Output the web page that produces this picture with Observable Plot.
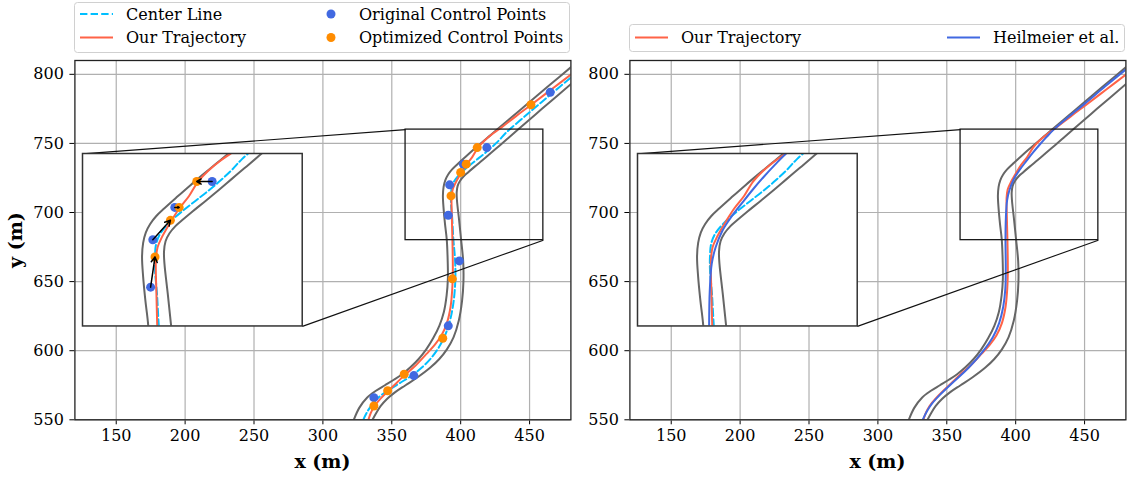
<!DOCTYPE html>
<html><head><meta charset="utf-8">
<script src="https://cdn.jsdelivr.net/npm/d3@7"></script>
<script src="https://cdn.jsdelivr.net/npm/@observablehq/plot@0.6"></script>
<style>
body{margin:0;background:#fff;}
#fig{position:relative;width:1134px;height:478px;overflow:hidden;background:#fff;}
#fig > svg, #fig > div{position:absolute;}
</style></head><body><div id="fig"></div>
<script>
// ---------- data ----------
const xTicks = [150, 200, 250, 300, 350, 400, 450];
const yTicks = [550, 600, 650, 700, 750, 800];
const xDomain = [120, 480];
const yDomain = [550, 810];
const zoomX = [360, 460];
const zoomY = [680, 760];

const leftBoundX = [322.4, 326.5, 332, 338.5, 345, 351.5, 357.5, 363.5, 369.5, 375, 380, 384.5, 387.8, 389.8, 390.7, 390.6, 389.9, 388.6, 387.6, 387.1, 387.6, 388.8, 390.8, 393.6, 397.3, 403.2, 409, 414.8, 420.6, 426.4, 438, 450, 465, 481];
const leftBoundY = [550, 558.8, 566, 571, 575, 579, 583, 588, 594, 601, 609, 618, 628, 640, 652, 664, 680.4, 692, 702.8, 712, 718.5, 723.3, 727.3, 731, 734.6, 740, 745.2, 750.2, 755.1, 760, 769.8, 779.9, 792.6, 806];

const rightBoundX = [336, 338.7, 342, 346.5, 352.5, 360, 368.5, 378, 384.5, 390, 394.8, 398.6, 401, 402, 401.8, 400.3, 398.8, 397.3, 397.1, 397.8, 399.6, 402.2, 405.3, 410.2, 416, 421.9, 427.7, 433.5, 441, 459, 481];
const rightBoundY = [550, 555, 560, 565, 570, 575, 580.6, 587.8, 594, 601, 609.6, 621.6, 636, 650, 665, 680.4, 695, 708.9, 714.5, 719.3, 723, 726.2, 729, 733.2, 738, 743, 748, 753, 759.5, 775, 793.8];

const centerX = [329.3, 332.3, 336.5, 342, 348.5, 356.5, 364.5, 372, 378.8, 384.5, 389, 392.3, 394.5, 395.8, 396.2, 395.7, 394.7, 393.9, 393, 393, 393.5, 395.2, 398.2, 402, 406.5, 411.5, 417, 422.5, 427.8, 432.7, 450, 465, 481];
const centerY = [550, 556, 562, 567.5, 572, 577, 582, 588, 595, 603, 612, 622, 633, 645, 657, 669, 680.4, 695, 705.8, 712.5, 718, 722.5, 726.5, 730.3, 734.1, 738.1, 742.5, 747.2, 752.2, 757.5, 772.5, 785.2, 798.5];

const ourX = [333, 334.8, 337.5, 342, 347.5, 353.8, 360, 366.5, 375, 381, 386, 390, 392.7, 393.9, 394.3, 394.2, 394, 393.6, 393.4, 394.2, 396.2, 398.3, 400.3, 404.1, 408.5, 412.6, 417, 422.3, 428.6, 440, 451, 466, 481];
const ourY = [550, 555, 560, 565.5, 571, 577, 583, 588.5, 597.5, 604, 611, 620, 632, 645, 658, 670, 680.4, 696.6, 710.5, 716.6, 721.3, 725.2, 728.6, 734.6, 740.3, 747, 751.8, 756.3, 760.8, 769.6, 777.8, 789.2, 800.5];

const heilX = [332.5, 335.5, 339.5, 345, 353, 366, 376.5, 383.5, 388, 391, 392.5, 392.8, 392.6, 392.9, 393.8, 395.6, 398.7, 403, 407.8, 412.5, 417.5, 422.5, 427.4, 438, 450, 465, 481];
const heilY = [550, 556, 562, 568, 575.7, 587.8, 599.9, 610, 620, 632, 645, 660, 680.4, 696.6, 708.9, 716.6, 724.3, 731, 737.3, 743.3, 749.2, 754.7, 759.8, 768.9, 778.6, 791.3, 804.3];

const origX = [337, 366, 391, 399, 391, 392, 402, 419, 465];
const origY = [566, 582, 618, 665, 698, 720, 735, 747, 787];
const optX = [337, 347, 359, 387, 394, 393, 400, 404, 412, 451];
const optY = [560, 571, 583, 609, 652, 712, 729, 735, 747, 778];
// arrows: [original index, optimized index]
const arrowPairs = [[4, 5], [5, 6], [6, 7], [7, 8]];

const insetFrac = [0.0157, 0.26, 0.443, 0.48]; // left, bottom, width, height (axes fraction)

// ---------- styles ----------
const C = {grid: "#b0b0b0", bound: "#666666", center: "#00bfff", ours: "#ff6347", heil: "#4169e1",
  orig: "#4169e1", opt: "#ff8c00", frame: "#222"};
const FONT = "DejaVu Serif";
const TICK_FS = 16, LEG_FS = 16, LABEL_FS = 19;
const pts = (xs, ys) => xs.map((x, i) => ({x, y: ys[i]}));
const boundL = pts(leftBoundX, leftBoundY), boundR = pts(rightBoundX, rightBoundY);
const center = pts(centerX, centerY), ours = pts(ourX, ourY), heil = pts(heilX, heilY);
const orig = pts(origX, origY), opt = pts(optX, optY);
const arrows = arrowPairs.map(([i, j]) => ({x1: origX[i], y1: origY[i], x2: optX[j], y2: optY[j]}));

const lineOpts = (stroke, extra = {}) => ({x: "x", y: "y", stroke, strokeWidth: 2, curve: "catmull-rom", clip: true, ...extra});

const PLOT_W = 496, PLOT_H = 359.3, M_TOP = 60, TOTAL_H = 478;
const M_BOTTOM = TOTAL_H - M_TOP - PLOT_H;

const ix0 = xDomain[0] + insetFrac[0] * (xDomain[1] - xDomain[0]);
const ix1 = ix0 + insetFrac[2] * (xDomain[1] - xDomain[0]);
const iy0 = yDomain[0] + insetFrac[1] * (yDomain[1] - yDomain[0]);
const iy1 = iy0 + insetFrac[3] * (yDomain[1] - yDomain[0]);
const zoomRect = [{x1: zoomX[0], x2: zoomX[1], y1: zoomY[0], y2: zoomY[1]}];
const connectors = [
  {x1: ix0, y1: iy1, x2: zoomX[0], y2: zoomY[1]},
  {x1: ix1, y1: iy0, x2: zoomX[1], y2: zoomY[0]}
];

function mainPlot(marginLeft, totalW, trackMarks) {
  return Plot.plot({
    width: totalW, height: TOTAL_H,
    marginLeft, marginRight: totalW - marginLeft - PLOT_W, marginTop: M_TOP, marginBottom: M_BOTTOM,
    style: {fontFamily: FONT, fontSize: TICK_FS + "px", color: "black", background: "transparent", overflow: "visible"},
    x: {domain: xDomain, ticks: xTicks, tickSize: 5, tickPadding: 5, label: null},
    y: {domain: yDomain, ticks: yTicks, tickSize: 5, tickPadding: 6, label: null},
    marks: [
      Plot.ruleX(xTicks, {stroke: C.grid, strokeWidth: 1.2}),
      Plot.ruleY(yTicks, {stroke: C.grid, strokeWidth: 1.2}),
      ...trackMarks,
      Plot.rect(zoomRect, {x1: "x1", x2: "x2", y1: "y1", y2: "y2", fill: "none", stroke: "#1a1a1a", strokeWidth: 1.3}),
      Plot.link(connectors, {x1: "x1", y1: "y1", x2: "x2", y2: "y2", stroke: "#111", strokeWidth: 1.1}),
      Plot.frame({stroke: C.frame, strokeWidth: 1.3})
    ]
  });
}

function insetPlot(trackMarks) {
  return Plot.plot({
    width: insetFrac[2] * PLOT_W, height: insetFrac[3] * PLOT_H,
    margin: 0,
    style: {background: "white", overflow: "visible"},
    x: {domain: zoomX, axis: null},
    y: {domain: zoomY, axis: null},
    marks: [...trackMarks, Plot.frame({stroke: "#333", strokeWidth: 1.5})]
  });
}

const boundMarks = () => [
  Plot.line(boundL, lineOpts(C.bound)),
  Plot.line(boundR, lineOpts(C.bound))
];
const centerMark = () => Plot.line(center, lineOpts(C.center, {strokeDasharray: "7.4,3.2"}));
const oursMark = () => Plot.line(ours, lineOpts(C.ours));
const heilMark = () => Plot.line(heil, lineOpts(C.heil));
const dotMarks = () => [
  Plot.dot(orig, {x: "x", y: "y", r: 4.5, fill: C.orig, stroke: "none", clip: true}),
  Plot.dot(opt, {x: "x", y: "y", r: 4.5, fill: C.opt, stroke: "none", clip: true})
];

const fig = document.getElementById("fig");

// left panel
const LEFT_ML = 74.4, LEFT_W = 580;
const left = mainPlot(LEFT_ML, LEFT_W, [...boundMarks(), centerMark(), oursMark(), ...dotMarks()]);
left.style.left = "0px"; left.style.top = "0px";
fig.appendChild(left);
const leftInset = insetPlot([...boundMarks(), centerMark(), oursMark(), ...dotMarks(),
  Plot.arrow(arrows, {x1: "x1", y1: "y1", x2: "x2", y2: "y2", stroke: "black", strokeWidth: 1.5, headLength: 6, clip: true})]);
leftInset.style.left = (LEFT_ML + insetFrac[0] * PLOT_W) + "px";
leftInset.style.top = (M_TOP + (1 - insetFrac[1] - insetFrac[3]) * PLOT_H) + "px";
fig.appendChild(leftInset);

// right panel
const RIGHT_X = 580, RIGHT_ML = 49.4, RIGHT_W = 554;
const right = mainPlot(RIGHT_ML, RIGHT_W, [...boundMarks(), oursMark(), heilMark()]);
right.style.left = RIGHT_X + "px"; right.style.top = "0px";
fig.appendChild(right);
const rightInset = insetPlot([...boundMarks(), centerMark(), oursMark(), heilMark()]);
rightInset.style.left = (RIGHT_X + RIGHT_ML + insetFrac[0] * PLOT_W) + "px";
rightInset.style.top = (M_TOP + (1 - insetFrac[1] - insetFrac[3]) * PLOT_H) + "px";
fig.appendChild(rightInset);

// overlay: legends & axis labels
const NS = "http://www.w3.org/2000/svg";
const ov = document.createElementNS(NS, "svg");
ov.setAttribute("width", 1134); ov.setAttribute("height", 478);
ov.style.left = "0px"; ov.style.top = "0px"; ov.style.pointerEvents = "none";
ov.setAttribute("font-family", FONT);
fig.appendChild(ov);
function el(tag, attrs, text) {
  const e = document.createElementNS(NS, tag);
  for (const k in attrs) e.setAttribute(k, attrs[k]);
  if (text != null) e.textContent = text;
  ov.appendChild(e);
  return e;
}
function legendBox(x, y, w, h) {
  el("rect", {x: x + 0.5, y: y + 0.5, width: w - 1, height: h - 1, rx: 3, fill: "white", stroke: "#d0d0d0", "stroke-width": 1});
}
function legendLine(x, y, color, dash, label) {
  el("line", {x1: x, x2: x + 33, y1: y, y2: y, stroke: color, "stroke-width": 2, "stroke-dasharray": dash || "none"});
  el("text", {x: x + 46, y, "font-size": LEG_FS, "dominant-baseline": "central"}, label);
}
function legendDot(x, y, color, label) {
  el("circle", {cx: x, cy: y, r: 4.5, fill: color});
  el("text", {x: x + 28, y, "font-size": LEG_FS, "dominant-baseline": "central"}, label);
}
legendBox(74, 2, 496, 51);
legendLine(80, 14, C.center, "7.4,3.2", "Center Line");
legendLine(80, 37.5, C.ours, null, "Our Trajectory");
legendDot(331, 14, C.orig, "Original Control Points");
legendDot(331, 37.5, C.opt, "Optimized Control Points");

legendBox(629, 24, 496, 28);
legendLine(635, 37.5, C.ours, null, "Our Trajectory");
legendLine(947, 37.5, C.heil, null, "Heilmeier et al.");

el("text", {x: 0, y: 0, transform: "translate(15,240) rotate(-90)", "text-anchor": "middle", "dominant-baseline": "central", "font-size": LABEL_FS, "font-weight": "bold"}, "y (m)");
el("text", {x: LEFT_ML + PLOT_W / 2, y: 461, "text-anchor": "middle", "dominant-baseline": "central", "font-size": LABEL_FS, "font-weight": "bold"}, "x (m)");
el("text", {x: RIGHT_X + RIGHT_ML + PLOT_W / 2, y: 461, "text-anchor": "middle", "dominant-baseline": "central", "font-size": LABEL_FS, "font-weight": "bold"}, "x (m)");
</script></body></html>
